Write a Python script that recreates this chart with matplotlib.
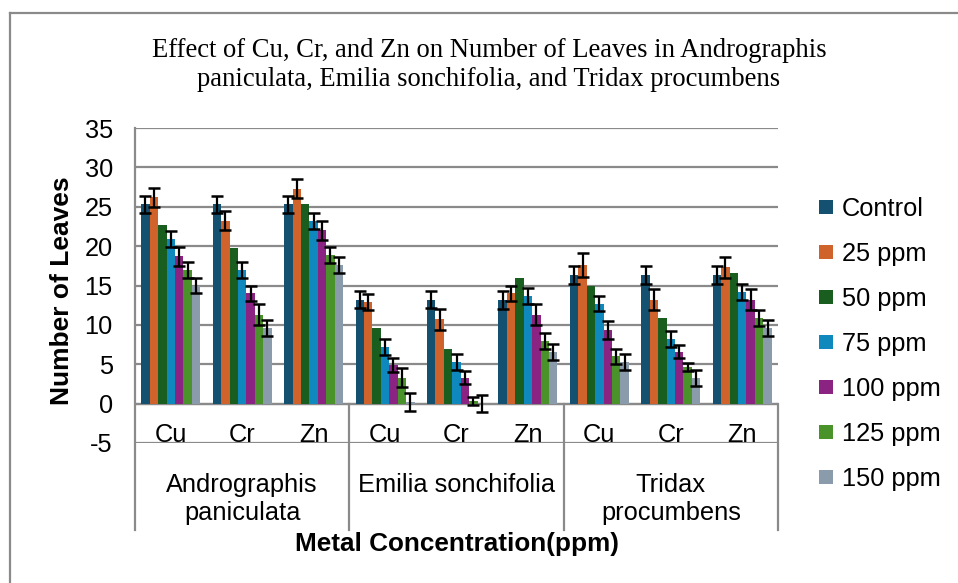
import matplotlib
matplotlib.use("Agg")
import matplotlib.pyplot as plt
import numpy as np
from matplotlib.lines import Line2D

# ---------------- data ----------------
species = ["Andrographis\npaniculata", "Emilia sonchifolia", "Tridax\nprocumbens"]
metals = ["Cu", "Cr", "Zn"]
series_names = ["Control", "25 ppm", "50 ppm", "75 ppm", "100 ppm", "125 ppm", "150 ppm"]

control = [25.3, 25.3, 25.3, 13.2, 13.2, 13.2, 16.3, 16.3, 16.3]
ppm25 = [26.2, 23.2, 27.3, 12.95, 10.7, 14.0, 17.6, 13.2, 17.3]
ppm50 = [22.7, 19.7, 25.3, 9.65, 7.0, 16.0, 15.0, 10.9, 16.6]
ppm75 = [20.9, 17.0, 23.2, 7.2, 5.3, 13.7, 12.7, 8.25, 14.2]
ppm100 = [18.7, 14.0, 22.0, 4.95, 3.3, 11.3, 9.3, 6.6, 13.2]
ppm125 = [17.0, 11.3, 18.9, 3.3, 0.3, 8.0, 6.0, 4.6, 10.9]
ppm150 = [15.0, 9.65, 17.6, 0.2, 0.0, 6.6, 5.3, 3.3, 9.65]

err_control = [1.1, 1.1, 1.1, 1.1, 1.1, 1.15, 1.15, 1.15, 1.15]
err_25 = [1.2, 1.2, 1.2, 1.0, 1.3, 1.0, 1.5, 1.3, 1.3]
err_50 = None
err_75 = [1.0, 1.0, 1.0, 1.0, 1.0, 1.0, 1.0, 1.0, 1.0]
err_100 = [1.2, 1.0, 1.2, 0.9, 0.8, 1.3, 1.15, 0.8, 1.3]
err_125 = [1.0, 1.3, 1.0, 1.25, 0.5, 1.0, 1.0, 0.5, 1.0]
err_150 = [1.0, 1.0, 1.0, 1.1, 1.1, 1.0, 1.0, 1.0, 1.0]

yticks = [-5, 0, 5, 10, 15, 20, 25, 30, 35]

title = ("Effect of Cu, Cr, and Zn on Number of Leaves in Andrographis\n"
         "paniculata, Emilia sonchifolia, and Tridax procumbens")
xlabel = "Metal Concentration(ppm)"
ylabel = "Number of Leaves"

colors = ["#14506f", "#d0622b", "#195e1f", "#0f88be", "#8b2382", "#4a922a", "#8a9bab"]

values = [control, ppm25, ppm50, ppm75, ppm100, ppm125, ppm150]
errors = [err_control, err_25, err_50, err_75, err_100, err_125, err_150]

# ---------------- figure ----------------
W, H = 958, 583
fig = plt.figure(figsize=(W / 100, H / 100), dpi=100)
sans = ["Liberation Sans", "DejaVu Sans"]
serif = ["Liberation Serif", "DejaVu Serif"]
FS = 18.3

# outer chart border (top and left visible)
grid_c = "#8a8a8a"
fig.add_artist(Line2D([10 / W, 1.0], [1 - 13 / H, 1 - 13 / H], transform=fig.transFigure,
                      color=grid_c, lw=1.6))
fig.add_artist(Line2D([10 / W, 10 / W], [1 - 13 / H, 0.0], transform=fig.transFigure,
                      color=grid_c, lw=1.6))

ax_l, ax_r, ax_t, ax_b = 135 / W, 778 / W, 1 - 128 / H, 1 - 443 / H
ax = fig.add_axes([ax_l, ax_b, ax_r - ax_l, ax_t - ax_b])

n_cat = len(control)
x = np.arange(n_cat)
bw = 0.118
for i, (vals, errs, c, name) in enumerate(zip(values, errors, colors, series_names)):
    pos = x + (i - 3) * bw
    ax.bar(pos, vals, width=bw, color=c, label=name, zorder=3, linewidth=0)
    if errs is not None:
        ax.errorbar(pos, vals, yerr=errs, fmt="none", ecolor="black",
                    elinewidth=1.6, capsize=4.5, capthick=1.8, zorder=4)

ax.set_xlim(-0.5, n_cat - 0.5)
ax.set_ylim(-5, 35)
ax.set_yticks(yticks)
ax.set_yticklabels([str(t) for t in yticks], fontsize=FS, family=sans)
ax.tick_params(axis="y", length=0, pad=16)
ax.set_xticks([])
ax.yaxis.grid(True, color=grid_c, lw=1.6, zorder=1)
ax.set_axisbelow(True)
for s in ["top", "right", "bottom", "left"]:
    ax.spines[s].set_visible(False)

# zero line
ax.axhline(0, color=grid_c, lw=1.6, zorder=2)

# axis lines / separators
trans = ax.get_xaxis_transform()
sep_bottom = -(530 - 443) / 315
ax.add_line(Line2D([-0.5, -0.5], [sep_bottom, 1.0], transform=trans, color=grid_c,
                   lw=1.6, clip_on=False, zorder=2))
for b in [2.5, 5.5, 8.5]:
    ax.add_line(Line2D([b, b], [sep_bottom, 5 / 40], transform=trans, color=grid_c,
                       lw=1.6, clip_on=False, zorder=2))

# category labels
for i in range(n_cat):
    ax.text(x[i], -4.85, metals[i % 3], ha="center", va="baseline",
            fontsize=FS, family=sans, zorder=5)

# species labels
for g, sp in enumerate(species):
    lines = sp.split("\n")
    cx = 3 * g + 1
    for k, ln in enumerate(lines):
        yb = -(492 - 443) / 315 - k * (28 / 315)
        ax.text(cx, yb, ln, transform=trans, ha="center", va="baseline",
                fontsize=FS, family=sans, clip_on=False)

# axis titles
fig.text(457 / W, 1 - 551 / H, xlabel, ha="center", va="baseline",
         fontsize=18.8, fontweight="bold", family=sans)
fig.text(62 / W, 1 - 291 / H, ylabel, ha="center", va="center", rotation=90,
         fontsize=19, fontweight="bold", family=sans)

# title
fig.text(489 / W, 1 - 65 / H, title, ha="center", va="center", fontsize=19.2,
         family=serif, linespacing=1.22)

# legend
handles = [Line2D([], [], marker="s", linestyle="none", markersize=9.5,
                  markerfacecolor=c, markeredgewidth=0) for c in colors]
fig.legend(handles, series_names, loc="center left",
           bbox_to_anchor=(806 / W, 1 - 344 / H), frameon=False,
           prop={"family": sans, "size": FS}, handlelength=0.6,
           handletextpad=0.3, labelspacing=0.83, borderpad=0)

fig.savefig("out.png", dpi=100)
